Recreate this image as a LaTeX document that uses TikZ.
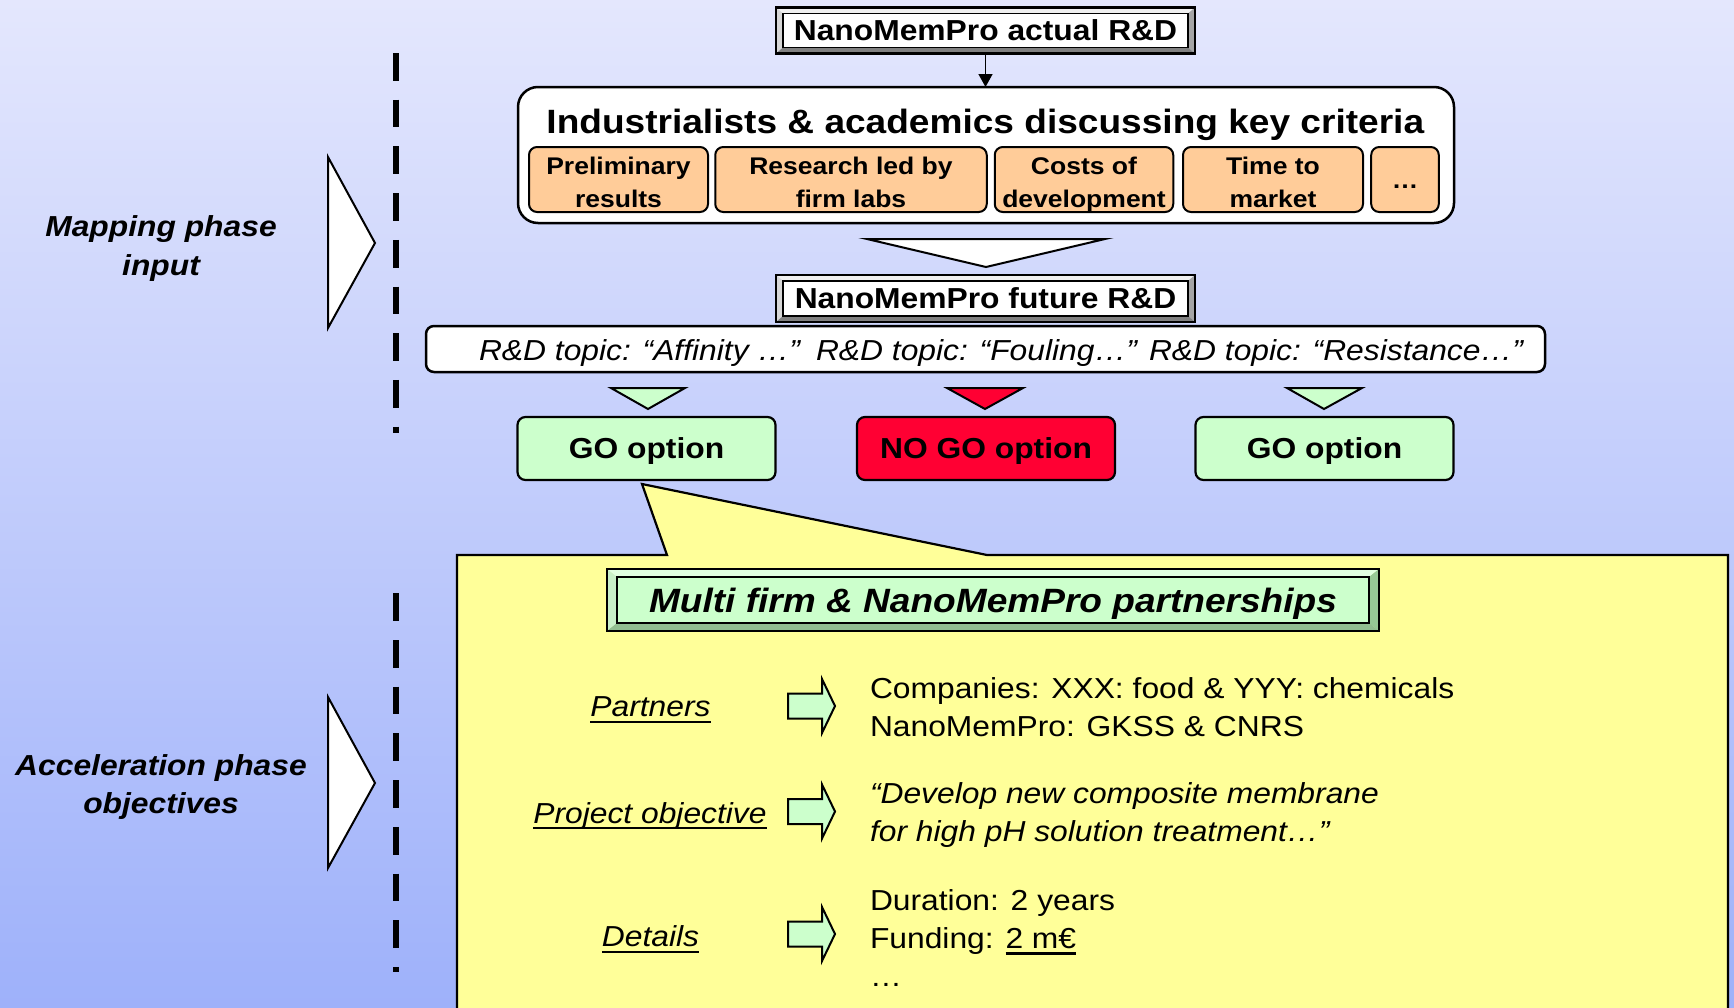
\documentclass[tikz,border=0pt]{standalone}
\usepackage{fontspec}
\setmainfont[FakeStretch=1.1]{Liberation Sans}
\usetikzlibrary{arrows.meta}
\definecolor{bgtop}{RGB}{228,231,253}
\definecolor{bgbot}{RGB}{158,177,250}
\definecolor{orangefill}{RGB}{255,204,153}
\definecolor{greenfill}{RGB}{204,255,204}
\definecolor{redfill}{RGB}{255,0,51}
\definecolor{yellowfill}{RGB}{255,255,153}
\definecolor{bvtop}{RGB}{240,240,240}
\definecolor{bvleft}{RGB}{215,215,215}
\definecolor{bvright}{RGB}{165,165,165}
\definecolor{bvbot}{RGB}{128,128,128}
\definecolor{gbvtop}{RGB}{225,255,225}
\definecolor{gbvleft}{RGB}{200,240,200}
\definecolor{gbvright}{RGB}{150,200,150}
\definecolor{gbvbot}{RGB}{145,190,145}
\newcommand\fNorm{\fontsize{28.9}{38.3}\selectfont}
\newcommand\fBig{\fontsize{33.7}{40.4}\selectfont}
\newcommand\fSm{\fontsize{24.1}{32.7}\selectfont}
\newcommand\otop{\rule{0pt}{22.6pt}}
\newcommand\nodepth[1]{\raisebox{0pt}[\height][0pt]{#1}}
\newcommand\myul[1]{\setbox0\hbox{#1}\rlap{\rule[-6.3pt]{\wd0}{2.5pt}}\box0}
\newcommand\bevelframe[8]{%
  \coordinate (#1-a) at ([shift={(-#2,-#3)}]#1.north west);
  \coordinate (#1-b) at ([shift={(#2,-#3)}]#1.north east);
  \coordinate (#1-c) at ([shift={(#2,#4)}]#1.south east);
  \coordinate (#1-d) at ([shift={(-#2,#4)}]#1.south west);
  \fill[#5] (#1-a) -- (#1-b) -- (#1.north east) -- (#1.north west) -- cycle;
  \fill[#6] (#1-a) -- (#1.north west) -- (#1.south west) -- (#1-d) -- cycle;
  \fill[#7] (#1-b) -- (#1-c) -- (#1.south east) -- (#1.north east) -- cycle;
  \fill[#8] (#1-d) -- (#1.south west) -- (#1.south east) -- (#1-c) -- cycle;
  \draw[line width=2.2] (#1-a) rectangle (#1-c);
  \draw[line width=1.8] (#1.north west) rectangle (#1.south east);
}
\newcommand\blockarrow[3]{%
  \coordinate (#1) at (#2,#3);
  \draw[fill=greenfill, line width=2] (#1) ++(0,-12.5) -- ++(34,0) -- ++(0,-14.5)
    -- ++(13,27) -- ++(-13,27) -- ++(0,-14.5) -- ++(-34,0) -- cycle;
}
\begin{document}
\begin{tikzpicture}[x=1pt,y=-1pt,line join=miter,
  every node/.style={outer sep=0pt},
  capbox/.style={text height=20.7pt,text depth=0pt},
  bevelnode/.style={draw,line width=1.8,fill=white,inner sep=0pt,font=\fNorm\bfseries,capbox},
  orangebox/.style={draw,line width=2,fill=orangefill,rounded corners=8pt,minimum height=65,inner sep=0pt,align=center,font=\fSm\bfseries},
  optbox/.style={draw,line width=2.2,rounded corners=8pt,minimum width=258,minimum height=63,inner sep=0pt,font=\fNorm\bfseries,capbox},
  tri/.style={draw,line width=2},
  phaselabel/.style={inner sep=0pt,align=center,font=\fNorm\bfseries\itshape},
  itlabel/.style={inner sep=0pt,font=\fNorm\itshape},
  bodytext/.style={inner sep=0pt,align=left,font=\fNorm},
  dashline/.style={line width=6.7,dash pattern=on 27.7pt off 19pt}]
\useasboundingbox (0,0) rectangle (1734,1007);
\shade[top color=bgtop,bottom color=bgbot] (0,0) rectangle (1734,1007);

% left side
\coordinate (da1) at (396,53);
\coordinate (da2) at (396,433);
\coordinate (db1) at (396,593.3);
\coordinate (db2) at (396,972);
\draw[dashline] (da1) -- (da2);
\draw[dashline] (db1) -- (db2);
\draw[tri,fill=white] (328,157) -- (375,243) -- (328,328) -- cycle;
\draw[tri,fill=white] (328,697) -- (375,783) -- (328,868) -- cycle;
% multi-line nodes: base anchor = last line's baseline
\node[phaselabel,anchor=base] (mapl) at (161,275) {Mapping phase\\input};
\node[phaselabel,anchor=base] (accl) at (161,813.3) {Acceleration phase\\objectives};

% top
\node[bevelnode,minimum width=405,minimum height=34] (actual) at (985.5,30.5) {NanoMemPro actual R\&D};
\node[draw,line width=2.5,fill=white,rounded corners=20pt,minimum width=936,minimum height=136,inner sep=0pt] (crit) at (986,155) {};
\draw[line width=1.5,-{Triangle[width=14pt,length=13pt]}] (actual.south) -- (actual.south |- crit.north);
\bevelframe{actual}{7}{6}{6}{bvtop}{bvleft}{bvright}{bvbot}
\node[inner sep=0pt,font=\fBig\bfseries,anchor=base] (crittitle) at (985.3,133) {Industrialists \& academics discussing key criteria};
\node[orangebox,minimum width=179] (c1) at (618.5,179.5) {\otop Preliminary\\results};
\node[orangebox,minimum width=271.5] (c2) at (851,179.5) {\otop Research led by\\firm labs};
\node[orangebox,minimum width=178.5] (c3) at (1084,179.5) {\otop Costs of\\\nodepth{development}};
\node[orangebox,minimum width=180] (c4) at (1273,179.5) {\otop Time to\\market};
\node[orangebox,minimum width=67.6,text height=17.3pt,text depth=0pt] (c5) at (1405,179.5) {…};
\draw[tri,fill=white] (867,239) -- (1105,239) -- (986,267) -- cycle;

\node[bevelnode,minimum width=405,minimum height=35] (future) at (985.5,298.5) {NanoMemPro future R\&D};
\bevelframe{future}{7}{6}{6}{bvtop}{bvleft}{bvright}{bvbot}
\node[draw,line width=2.5,fill=white,rounded corners=8pt,minimum width=1119,minimum height=46,inner sep=0pt] (topics) at (985.5,349) {};
\node[itlabel,anchor=base west] (t1) at (479,360) {R\&D topic: “Affinity …”};
\node[itlabel,anchor=base west] (t2) at (816,360) {R\&D topic: “Fouling…”};
\node[itlabel,anchor=base west] (t3) at (1149,360) {R\&D topic: “Resistance…”};
\draw[tri,fill=greenfill] (611,388) -- (685,388) -- (648,409) -- cycle;
\draw[tri,fill=redfill] (947,388) -- (1023,388) -- (985,409) -- cycle;
\draw[tri,fill=greenfill] (1287,388) -- (1362,388) -- (1324,409) -- cycle;
\node[optbox,fill=greenfill] (go1) at (646.5,448.5) {GO option};
\node[optbox,fill=redfill] (nogo) at (986,448.5) {NO GO option};
\node[optbox,fill=greenfill] (go2) at (1324.5,448.5) {GO option};

% callout
\coordinate (tip) at ([shift={(-4.5,4)}]go1.south);
\begin{scope}
\clip (0,0) rectangle (1734,1007);
\draw[fill=yellowfill,line width=2.2] (457,1025) -- (457,555) -- (667,555) -- (tip) -- (987,555) -- (1728,555) -- (1728,1025);
\end{scope}
\node[draw,line width=1.8,fill=greenfill,minimum width=752,minimum height=46,inner sep=0pt,font=\fBig\bfseries\itshape,text height=24.1pt,text depth=0pt] (multi) at (993,600) {Multi firm \& NanoMemPro partnerships};
\bevelframe{multi}{10}{8}{8}{gbvtop}{gbvleft}{gbvright}{gbvbot}

\node[itlabel,anchor=base] (lp) at (650.5,716.7) {\myul{Partners}};
\node[itlabel,anchor=base] (lo) at (650,823) {\myul{Project objective}};
\node[itlabel,anchor=base] (ld) at (650.5,946.7) {\myul{Details}};
\blockarrow{ap}{788}{706}
\blockarrow{ao}{788}{811.5}
\blockarrow{ad}{788}{934}
\node[bodytext,anchor=base west] (rp) at (870,736.7) {Companies: XXX: food \& YYY: chemicals\\NanoMemPro: GKSS \& CNRS};
\node[bodytext,anchor=base west,font=\fNorm\itshape] (ro) at (870,841.7) {“Develop new composite membrane\\for high pH solution treatment…”};
\node[bodytext,anchor=base west] (rd) at (870,986.7) {Duration: 2 years\\Funding: \myul{2 m€}\\…};
\end{tikzpicture}
\end{document}
